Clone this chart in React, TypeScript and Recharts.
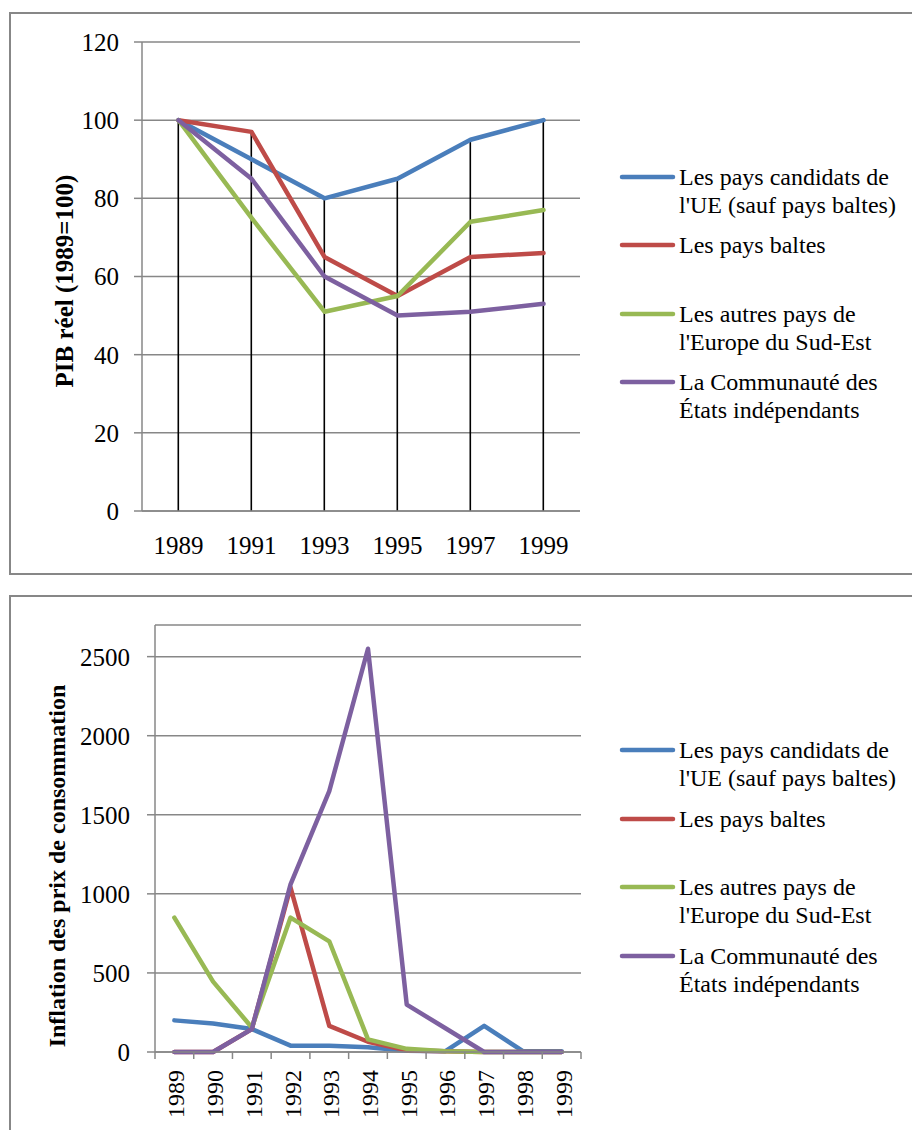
import React from 'react';
import {
  ComposedChart,
  Line,
  Bar,
  XAxis,
  YAxis,
  CartesianGrid,
  Legend,
  Label,
} from 'recharts';

const FONT = '"Liberation Serif", "Times New Roman", serif';
const GRID = '#878787';

// series shared by both charts
const seriesNames = [
  "Les pays candidats de l'UE (sauf pays baltes)",
  'Les pays baltes',
  "Les autres pays de l'Europe du Sud-Est",
  'La Communauté des États indépendants',
];
const seriesColors = ['#4A7EBB', '#BE4B48', '#98B954', '#7D60A0'];
const seriesKeys = ['candidats', 'baltes', 'sudEst', 'cei'];

// top chart: PIB réel (1989=100)
const gdpYears = ['1989', '1991', '1993', '1995', '1997', '1999'];
const gdpCandidats = [100, 90, 80, 85, 95, 100];
const gdpBaltes = [100, 97, 65, 55, 65, 66];
const gdpSudEst = [100, 75, 51, 55, 74, 77];
const gdpCei = [100, 85, 60, 50, 51, 53];
const gdpTicks = [0, 20, 40, 60, 80, 100, 120];

// bottom chart: inflation des prix de consommation
const inflYears = ['1989', '1990', '1991', '1992', '1993', '1994', '1995', '1996', '1997', '1998', '1999'];
const inflCandidats = [200, 180, 145, 40, 40, 30, 8, 5, 165, 5, 5];
const inflBaltes = [0, 0, 145, 1040, 165, 65, 10, 5, 0, 0, 0];
const inflSudEst = [850, 445, 155, 850, 700, 80, 20, 5, 0, 0, 0];
const inflCei = [0, 0, 145, 1060, 1650, 2550, 300, 150, 0, 0, 0];
const inflTicks = [0, 500, 1000, 1500, 2000, 2500];

const gdpSeries = [gdpCandidats, gdpBaltes, gdpSudEst, gdpCei];
const gdpData = gdpYears.map((year, i) => {
  const row: Record<string, number | string> = { year };
  seriesKeys.forEach((k, s) => { row[k] = gdpSeries[s][i]; });
  row.peak = Math.max(...gdpSeries.map((v) => v[i]));
  return row;
});

const inflSeries = [inflCandidats, inflBaltes, inflSudEst, inflCei];
const inflData = inflYears.map((year, i) => {
  const row: Record<string, number | string> = { year };
  seriesKeys.forEach((k, s) => { row[k] = inflSeries[s][i]; });
  return row;
});

// black drop line from the highest point of the category down to the axis
const DropLine = (props: any) => {
  const { x, y, width, height } = props;
  const cx = x + width / 2;
  return <line x1={cx} x2={cx} y1={y} y2={y + height} stroke="#000" strokeWidth={1.6} />;
};

const makeLegend = (pitch: number) => (props: any) => {
  const items = (props.payload || [])
    .filter((p: any) => p.type !== 'none' && seriesNames.indexOf(p.value) >= 0)
    .sort((a: any, b: any) => seriesNames.indexOf(a.value) - seriesNames.indexOf(b.value));
  return (
    <div style={{ fontFamily: FONT, fontSize: 24, lineHeight: '28px', color: '#000', textAlign: 'left' }}>
      {items.map((p: any, i: number) => (
        <div key={i} style={{ position: 'relative', height: pitch }}>
          <svg width={60} height={28} style={{ position: 'absolute', left: 0, top: 0 }}>
            <line x1={4} x2={55} y1={14} y2={14} stroke={p.color} strokeWidth={4.5} strokeLinecap="round" />
          </svg>
          <div style={{ position: 'absolute', left: 61, top: 0, width: 230 }}>{p.value}</div>
        </div>
      ))}
    </div>
  );
};

const axisTitle = (text: string, x: number, y: number, size: number) => () => (
  <text
    x={x}
    y={y}
    transform={`rotate(-90, ${x}, ${y})`}
    textAnchor="middle"
    fontFamily={FONT}
    fontSize={size}
    fontWeight="bold"
    fill="#000"
    style={{ fontFamily: FONT }}
  >
    {text}
  </text>
);

const InflTick = (props: any) => {
  const { x, y, payload, index } = props;
  const half = payload && payload.offset ? payload.offset : 19.35;
  const last = index === inflYears.length - 1;
  const tx = x + 10;
  const ty = y + 18;
  return (
    <g>
      <line x1={x - half} x2={x - half} y1={y} y2={y + 7} stroke={GRID} strokeWidth={1.5} />
      {last && <line x1={x + half} x2={x + half} y1={y} y2={y + 7} stroke={GRID} strokeWidth={1.5} />}
      <text
        x={tx}
        y={ty}
        transform={`rotate(-90, ${tx}, ${ty})`}
        textAnchor="end"
        fontSize={24}
        fill="#000"
        style={{ fontFamily: FONT }}
      >
        {payload.value}
      </text>
    </g>
  );
};

const tickStyle = { fontSize: 25, fill: '#000', fontFamily: FONT, style: { fontFamily: FONT } };

const renderLines = () =>
  seriesKeys.map((k, i) => (
    <Line
      key={k}
      type="linear"
      dataKey={k}
      name={seriesNames[i]}
      stroke={seriesColors[i]}
      strokeWidth={4.5}
      strokeLinejoin="round"
      strokeLinecap="round"
      dot={false}
      activeDot={false}
      isAnimationActive={false}
    />
  ));

const App: React.FC = () => (
  <div
    style={{
      position: 'absolute', left: 0, top: 0, width: 912, height: 1130,
      overflow: 'hidden', background: '#fff', fontFamily: FONT,
    }}
  >
    <div style={{ position: 'absolute', left: 9, top: 12, width: 960, height: 563, border: `2px solid ${GRID}`, boxSizing: 'border-box' }} />
    <div style={{ position: 'absolute', left: 9, top: 595, width: 960, height: 600, border: `2px solid ${GRID}`, boxSizing: 'border-box' }} />

    <div style={{ position: 'absolute', left: 0, top: 0 }}>
      <ComposedChart width={912} height={575} data={gdpData} margin={{ top: 42, right: 332, bottom: 24, left: 82 }}>
        <CartesianGrid vertical={false} stroke={GRID} strokeWidth={1.5} />
        <XAxis
          dataKey="year"
          scale="band"
          tickLine={false}
          tickSize={0}
          tickMargin={25}
          height={40}
          axisLine={{ stroke: GRID, strokeWidth: 1.5 }}
          tick={tickStyle}
        />
        <YAxis
          domain={[0, 120]}
          ticks={gdpTicks}
          width={60}
          tickSize={8}
          tickMargin={15}
          axisLine={{ stroke: GRID, strokeWidth: 1.5 }}
          tickLine={{ stroke: GRID, strokeWidth: 1.5 }}
          tick={tickStyle}
        >
          <Label content={axisTitle('PIB réel (1989=100)', 73, 281, 25)} />
        </YAxis>
        <Bar dataKey="peak" legendType="none" shape={DropLine} isAnimationActive={false} />
        {renderLines()}
        <Legend
          layout="vertical"
          align="center"
          verticalAlign="middle"
          wrapperStyle={{ left: 618, top: 163, width: 300 }}
          content={makeLegend(68.3)}
        />
      </ComposedChart>
    </div>

    <div style={{ position: 'absolute', left: 0, top: 590 }}>
      <ComposedChart width={912} height={540} data={inflData} margin={{ top: 35, right: 331, bottom: 8, left: 85 }}>
        <CartesianGrid vertical={false} stroke={GRID} strokeWidth={1.5} />
        <XAxis
          dataKey="year"
          scale="band"
          tickLine={false}
          tickSize={0}
          tickMargin={0}
          height={70}
          interval={0}
          axisLine={{ stroke: GRID, strokeWidth: 1.5 }}
          tick={<InflTick />}
        />
        <YAxis
          domain={[0, 2700]}
          ticks={inflTicks}
          width={70}
          tickSize={8}
          tickMargin={17}
          axisLine={{ stroke: GRID, strokeWidth: 1.5 }}
          tickLine={{ stroke: GRID, strokeWidth: 1.5 }}
          tick={tickStyle}
        >
          <Label content={axisTitle('Inflation des prix de consommation', 65, 276, 24)} />
        </YAxis>
        {renderLines()}
        <Legend
          layout="vertical"
          align="center"
          verticalAlign="middle"
          wrapperStyle={{ left: 618, top: 146, width: 300 }}
          content={makeLegend(68.7)}
        />
      </ComposedChart>
    </div>
  </div>
);

export default App;
